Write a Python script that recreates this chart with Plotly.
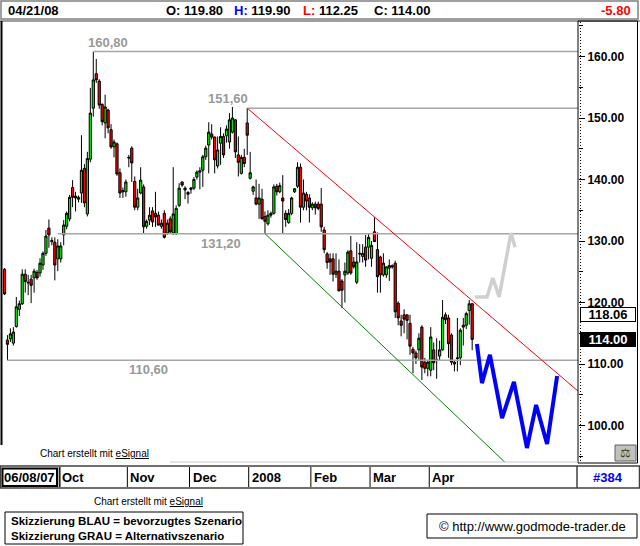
import plotly.graph_objects as go

# ---------------- data (daily OHLC, one entry per trading day) ----------------
opens = [125.4, 113.9, 114.1, 113.4, 116.1, 118.9, 119.8, 124.6, 123.3, 123.8,
         124.0, 124.9, 124.8, 126.1, 128.0, 132.1, 130.1, 129.8, 127.1, 127.1,
         131.0, 132.4, 133.6, 138.7, 137.3, 136.8, 137.8, 141.8, 134.4, 143.3,
         151.6, 157.2, 156.0, 152.2, 149.2, 151.3, 148.1, 145.3, 145.8, 141.1,
         138.0, 138.0, 143.6, 145.1, 139.7, 135.5, 137.8, 138.8, 132.4, 133.4,
         134.9, 134.5, 134.2, 132.4, 134.5, 131.3, 133.6, 131.3, 131.2, 135.8,
         139.6, 138.3, 137.9, 138.4, 138.6, 140.4, 141.2, 141.5, 143.7, 145.6,
         147.4, 146.9, 142.2, 145.9, 147.0, 147.1, 146.1, 147.7, 149.7, 144.0,
         141.0, 143.6, 149.2, 140.2, 138.1, 137.0, 136.0, 136.8, 134.0, 132.8,
         134.2, 134.5, 138.9, 138.0, 137.0, 134.5, 133.0, 134.5, 138.0, 138.9,
         142.0, 135.5, 137.6, 137.0, 135.4, 136.0, 136.0, 136.0, 131.8, 127.9,
         127.1, 127.1, 124.6, 125.1, 123.5, 124.5, 124.8, 128.4, 126.6, 123.3,
         128.0, 127.5, 129.0, 129.0, 127.2, 131.5, 128.6, 127.4, 124.5, 124.5,
         125.6, 126.0, 126.4, 119.9, 117.0, 118.0, 118.0, 116.6, 112.4, 111.8,
         112.3, 116.0, 110.3, 109.3, 109.0, 112.3, 110.7, 111.3, 112.3, 118.0,
         117.5, 114.7, 110.0, 111.0, 111.0, 116.0, 116.3, 118.7, 119.8]
highs = [125.6, 114.7, 115.8, 116.0, 120.9, 120.3, 125.4, 125.4, 124.5, 124.5,
         125.5, 125.3, 127.2, 128.3, 131.8, 133.5, 130.6, 130.6, 130.3, 129.8,
         133.4, 134.8, 137.5, 139.9, 138.0, 137.4, 147.2, 142.5, 144.5, 154.9,
         160.8, 159.6, 156.3, 152.4, 153.8, 151.5, 149.0, 146.5, 146.0, 141.8,
         138.7, 140.0, 144.0, 145.4, 140.5, 138.5, 142.0, 139.2, 133.5, 135.5,
         135.5, 138.0, 134.8, 133.5, 135.0, 133.5, 134.0, 142.0, 135.8, 139.4,
         139.7, 138.9, 138.1, 138.8, 140.4, 141.5, 142.0, 144.0, 145.5, 149.3,
         149.0, 147.0, 147.0, 148.5, 147.5, 148.8, 150.8, 151.8, 149.8, 147.0,
         144.0, 145.0, 151.6, 144.5, 139.0, 140.0, 139.3, 138.5, 134.8, 135.0,
         134.8, 139.2, 139.3, 139.5, 140.7, 135.0, 135.2, 137.2, 138.6, 142.8,
         142.6, 140.0, 138.0, 137.6, 136.3, 136.4, 136.4, 138.6, 132.3, 128.2,
         128.0, 128.0, 128.0, 127.0, 123.8, 126.5, 128.5, 130.8, 127.4, 129.8,
         129.5, 129.5, 131.0, 131.3, 130.0, 133.9, 131.4, 127.6, 128.0, 125.8,
         127.0, 126.2, 126.8, 120.2, 118.0, 118.9, 118.0, 118.0, 112.8, 112.2,
         115.0, 116.3, 111.0, 110.6, 116.0, 113.5, 114.2, 113.8, 120.4, 118.4,
         118.0, 115.0, 110.6, 117.5, 115.8, 117.5, 118.5, 120.4, 119.9]
lows = [121.2, 110.6, 113.6, 113.0, 115.9, 117.8, 119.6, 121.6, 121.2, 119.9,
        121.6, 123.7, 124.2, 125.3, 127.6, 128.9, 129.3, 123.6, 125.1, 126.5,
        129.3, 131.9, 133.2, 135.5, 134.8, 136.3, 136.2, 135.5, 134.0, 142.8,
        150.2, 155.7, 151.5, 148.8, 146.7, 147.5, 145.0, 143.6, 140.6, 137.0,
        137.0, 137.2, 142.0, 139.6, 135.0, 135.0, 137.6, 131.3, 132.0, 132.6,
        132.3, 132.3, 132.5, 132.0, 130.4, 131.0, 131.3, 131.0, 131.0, 135.5,
        138.8, 136.8, 136.1, 137.7, 138.3, 140.0, 138.4, 138.8, 143.2, 141.0,
        146.5, 141.0, 141.8, 142.4, 143.5, 146.0, 145.0, 147.5, 143.5, 140.5,
        140.8, 142.0, 144.0, 140.0, 137.5, 135.8, 133.6, 133.5, 131.2, 132.5,
        133.8, 134.3, 137.4, 137.8, 131.3, 132.3, 132.8, 134.2, 137.8, 138.6,
        133.0, 135.0, 135.0, 133.0, 135.0, 134.3, 135.0, 131.5, 128.0, 125.5,
        124.5, 123.4, 124.0, 121.8, 119.1, 120.0, 124.5, 124.5, 125.5, 123.0,
        126.5, 126.5, 125.8, 127.0, 125.8, 130.0, 121.6, 121.6, 124.2, 124.0,
        123.5, 125.5, 117.5, 116.3, 114.5, 115.0, 114.0, 111.5, 108.5, 110.0,
        110.5, 107.4, 108.5, 108.0, 108.0, 109.0, 107.6, 110.5, 112.2, 116.5,
        111.0, 109.8, 108.8, 108.8, 109.8, 113.0, 115.7, 116.4, 112.25]
closes = [121.4, 113.2, 114.9, 115.2, 119.3, 119.8, 124.6, 123.4, 123.2, 122.8,
          125.1, 124.0, 126.4, 128.0, 130.8, 131.0, 129.9, 126.1, 129.2, 129.2,
          132.6, 134.5, 137.1, 137.1, 137.0, 137.1, 141.5, 136.2, 143.4, 150.8,
          156.2, 156.2, 152.1, 149.4, 151.8, 148.4, 145.3, 146.1, 140.9, 137.8,
          138.2, 139.6, 143.5, 142.7, 135.5, 137.0, 139.9, 132.3, 133.2, 134.2,
          133.1, 133.9, 132.6, 132.9, 130.6, 132.9, 131.5, 134.4, 135.3, 138.6,
          139.1, 138.6, 137.6, 138.6, 140.0, 141.2, 141.4, 143.7, 145.1, 147.7,
          146.9, 143.2, 144.8, 147.0, 144.0, 148.2, 149.7, 150.0, 144.5, 142.8,
          143.6, 142.6, 147.2, 141.1, 138.8, 136.0, 137.0, 133.6, 133.2, 134.2,
          134.5, 138.8, 138.0, 139.0, 136.5, 133.5, 134.5, 137.0, 138.5, 142.0,
          135.5, 137.8, 136.5, 135.5, 136.0, 135.4, 135.3, 132.3, 128.6, 126.5,
          126.6, 124.6, 125.1, 121.9, 122.0, 125.1, 128.2, 124.8, 125.8, 126.6,
          127.9, 128.0, 126.9, 130.6, 129.3, 129.9, 124.2, 124.5, 126.4, 125.8,
          126.0, 125.8, 118.5, 117.5, 116.3, 117.3, 117.1, 112.9, 111.8, 111.0,
          114.2, 109.5, 109.3, 110.3, 114.4, 110.2, 110.6, 112.3, 117.6, 117.2,
          113.3, 110.3, 110.3, 110.9, 115.5, 116.3, 118.2, 119.8, 114.0]
bars = list(range(len(opens)))

month_labels = ["Oct", "Nov", "Dec", "2008", "Feb", "Mar", "Apr"]
month_first_bar = [19, 42, 63, 83, 104, 124, 144]
start_label = "06/08/07"
last_date = "04/21/08"
bar_count_label = "#384"

levels = [160.8, 151.6, 131.2, 110.6]
level_start_bar = [30, 82, 18, 1]
level_label_bar = [34.8, 75.5, 73.1, 48.8]
level_label_above = [True, True, False, False]

resist_x = [82, 194]
resist_y = [151.6, 105.5]
support_x = [88, 170]
support_y = [131.2, 93.6]

blue_x = [159.6, 161.3, 164.0, 168.1, 172.1, 176.5, 179.6, 183.3, 186.7]
blue_y = [113.25, 106.9, 111.5, 101.2, 107.1, 96.35, 103.35, 97.0, 108.05]
gray_x = [158.9, 163.0, 165.0, 167.1, 171.1, 172.5]
gray_y = [120.9, 120.9, 124.0, 120.9, 131.3, 129.0]

marker_level = 118.06

# ---------------- geometry helpers ----------------
W, H = 640, 546
ML, MR, MT, MB = 3, 62, 22, 84
PW, PH = W - ML - MR, H - MT - MB
FONT = "Liberation Sans, Arial, sans-serif"


def px(x):
    return (x - ML) / PW


def py(y):
    return (H - MB - y) / PH


highs = [max(h, o, c) for h, o, c in zip(highs, opens, closes)]
lows = [min(l, o, c) for l, o, c in zip(lows, opens, closes)]

fig = go.Figure()

# horizontal support / resistance levels
for lvl, s in zip(levels, level_start_bar):
    fig.add_trace(go.Scatter(x=[s, 200], y=[lvl, lvl], mode="lines",
                             line=dict(color="#A6A6A6", width=1.5),
                             hoverinfo="skip", showlegend=False))

# trend channel
fig.add_trace(go.Scatter(x=resist_x, y=resist_y, mode="lines",
                         line=dict(color="#FF0000", width=1),
                         hoverinfo="skip", showlegend=False))
fig.add_trace(go.Scatter(x=support_x, y=support_y, mode="lines",
                         line=dict(color="#008000", width=1),
                         hoverinfo="skip", showlegend=False))

fig.add_trace(go.Candlestick(
    x=bars, open=opens, high=highs, low=lows, close=closes,
    increasing=dict(line=dict(color="black", width=1), fillcolor="#00EE00"),
    decreasing=dict(line=dict(color="black", width=1), fillcolor="#FF0000"),
    whiskerwidth=0, showlegend=False))

# scenario sketches
fig.add_trace(go.Scatter(x=gray_x, y=gray_y, mode="lines",
                         line=dict(color="#CFCFCF", width=3.5),
                         hoverinfo="skip", showlegend=False))
fig.add_trace(go.Scatter(x=blue_x, y=blue_y, mode="lines",
                         line=dict(color="#0000FF", width=4),
                         hoverinfo="skip", showlegend=False))

shapes = []
ann = []


def rect(x0, y0, x1, y1, line="black", lw=1, fill="rgba(0,0,0,0)"):
    shapes.append(dict(type="rect", xref="paper", yref="paper",
                       x0=px(x0), x1=px(x1), y0=py(y0), y1=py(y1),
                       line=dict(color=line, width=lw), fillcolor=fill, layer="above"))


def hline(x0, x1, y, color="black", lw=1):
    shapes.append(dict(type="line", xref="paper", yref="paper",
                       x0=px(x0), x1=px(x1), y0=py(y), y1=py(y),
                       line=dict(color=color, width=lw), layer="above"))


def vline(x, y0, y1, color="black", lw=1, dash="solid"):
    shapes.append(dict(type="line", xref="paper", yref="paper",
                       x0=px(x), x1=px(x), y0=py(y0), y1=py(y1),
                       line=dict(color=color, width=lw, dash=dash), layer="above"))


def text(x, y, t, size=13, color="black", bold=True, xanchor="left", **kw):
    ann.append(dict(xref="paper", yref="paper", x=px(x), y=py(y), text=t,
                    showarrow=False, xanchor=xanchor, yanchor="middle",
                    font=dict(family=FONT, size=size, color=color,
                              weight="bold" if bold else "normal"), **kw))


# top info bar
rect(1, 1, 638, 19, line="#808080", lw=1.5, fill="white")
o, h_, l_, c = opens[-1], highs[-1], lows[-1], closes[-1]
chg = closes[-1] - closes[-2]
text(6, 10.5, last_date)
text(164, 10.5, f"O: {o:.2f}")
text(232, 10.5, f"<span style='color:#0000FF'>H:</span> {h_:.2f}")
text(301, 10.5, f"<span style='color:#FF0000'>L:</span> {l_:.2f}")
text(372, 10.5, f"C: {c:.2f}")
text(633, 10.5, f"{chg:.2f}", color="#FF0000", xanchor="right")

# chart frame
hline(0, 640, 21, color="#404040", lw=1)
vline(1.5, 21, 445, color="black", lw=2)
rect(578, 21, 637.5, 463, line="black", lw=1)
hline(170, 578, 462, color="#C8C8C8", lw=1)
vline(580.5, 22, 462, color="black", lw=1, dash="1px,2px")

# bottom-right icon
rect(615, 445, 636, 461, line="#606060", lw=1, fill="#C0C0C0")
text(625.5, 453, "⚖", size=12, color="#404000", bold=False, xanchor="center")

# level labels
for lvl, b, above in zip(levels, level_label_bar, level_label_above):
    ann.append(dict(xref="x", yref="y", x=b, y=lvl,
                    text=f"{lvl:.2f}".replace(".", ","), showarrow=False,
                    xanchor="center", yanchor="bottom" if above else "top",
                    font=dict(family=FONT, size=13, color="#999999", weight="bold")))

# price markers on the axis
ann.append(dict(xref="paper", yref="y", x=px(608), y=marker_level,
                text=f"{marker_level:.2f}", showarrow=False, xanchor="center",
                yanchor="middle", width=54, height=13, bgcolor="white",
                bordercolor="black", borderwidth=1, borderpad=0,
                font=dict(family=FONT, size=13, color="black", weight="bold")))
ann.append(dict(xref="paper", yref="y", x=px(608), y=closes[-1],
                text=f"{closes[-1]:.2f}", showarrow=False, xanchor="center",
                yanchor="middle", width=54, height=13, bgcolor="black",
                bordercolor="black", borderwidth=1, borderpad=0,
                font=dict(family=FONT, size=13, color="white", weight="bold")))

# "Chart erstellt mit eSignal"
text(38, 453, "Chart erstellt mit <u>eSignal</u>", size=10, bold=False)
text(92, 502, "Chart erstellt mit <u>eSignal</u>", size=10, bold=False)

# date strip
rect(0.5, 466, 639.5, 488, line="#404040", lw=1.5, fill="white")
rect(2.5, 468.5, 57, 486, line="black", lw=2)
text(29.75, 477.5, start_label, xanchor="center")
for lab, fb in zip(month_labels, month_first_bar):
    shapes.append(dict(type="line", xref="x", yref="paper", x0=fb - 0.5, x1=fb - 0.5,
                       y0=py(467), y1=py(487), line=dict(color="black", width=1),
                       layer="above"))
    ann.append(dict(xref="x", yref="paper", x=fb - 0.5, y=py(477.5), text=lab,
                    showarrow=False, xanchor="left", yanchor="middle", xshift=1,
                    font=dict(family=FONT, size=13, color="black", weight="bold")))
vline(60, 467, 487)
vline(577, 466, 488, color="#404040", lw=1.5)
text(608, 477.5, bar_count_label, color="#0000FF", xanchor="center")

# legend box and copyright
rect(5, 512, 243, 544, line="black", lw=1)
text(9, 521, "Skizzierung BLAU = bevorzugtes Szenario", size=11.5)
text(9, 536, "Skizzierung GRAU = Alternativszenario", size=11.5)
rect(427, 514, 637, 538, line="black", lw=1)
text(532, 526, "© http://www.godmode-trader.de", size=13, bold=False, xanchor="center")

fig.update_layout(
    width=W, height=H,
    margin=dict(l=ML, r=MR, t=MT, b=MB, pad=0),
    paper_bgcolor="white", plot_bgcolor="white",
    showlegend=False, boxgap=0.25, boxgroupgap=0,
    xaxis=dict(range=[-0.507, 193.75], visible=False, showgrid=False,
               zeroline=False, rangeslider=dict(visible=False), fixedrange=True),
    yaxis=dict(range=[94.07, 165.61], side="right", showgrid=False, zeroline=False,
               showline=False, ticks="outside", ticklen=6, tickwidth=1,
               tickcolor="black", dtick=10, tick0=0, tickformat=".2f",
               tickfont=dict(family=FONT, size=12, color="black", weight="bold"),
               minor=dict(dtick=5, ticks="outside", ticklen=4, tickcolor="black"),
               fixedrange=True),
    shapes=shapes, annotations=ann,
)

fig.write_html(
    "out.html",
    config={"displayModeBar": False},
    post_script="document.body.style.margin='0';document.body.style.padding='0';"
                "document.body.style.overflow='hidden';",
)
